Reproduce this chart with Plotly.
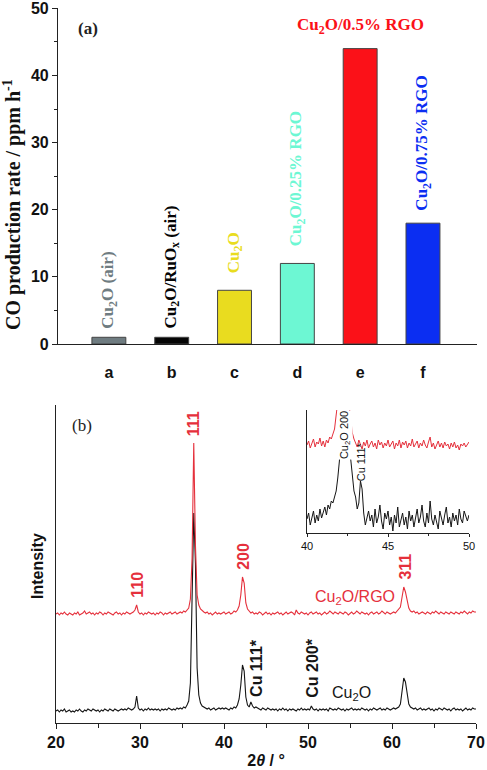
import numpy as np
import plotly.graph_objects as go

# ---------------- Panel (a) data ----------------
bar_categories = ["a", "b", "c", "d", "e", "f"]
bar_values = [1, 1, 8, 12, 44, 18]
bar_colors = ["#6f7c81", "#050505", "#e9dc1f", "#6df7d3", "#fb1118", "#0b2ef2"]
bar_labels = ["Cu<sub>2</sub>O (air)", "Cu<sub>2</sub>O/RuO<sub>x</sub> (air)", "Cu<sub>2</sub>O",
              "Cu<sub>2</sub>O/0.25% RGO", "Cu<sub>2</sub>O/0.5% RGO", "Cu<sub>2</sub>O/0.75% RGO"]
y_ticks_a = [0, 10, 20, 30, 40, 50]

# ---------------- Panel (b) data (2theta 20..70, step 0.2) ----------------
two_theta = np.round(np.arange(20.0, 70.0001, 0.2), 1)
cu2o_rgo = [
    109, 110, 108, 110, 109, 111, 109, 108, 110, 109,
    108, 110, 109, 111, 108, 109, 110, 112, 109, 110,
    111, 109, 110, 108, 110, 109, 111, 110, 108, 110,
    109, 111, 110, 109, 108, 110, 111, 109, 110, 108,
    110, 109, 111, 110, 109, 110, 111, 113, 118, 111,
    109, 110, 108, 110, 109, 111, 110, 109, 110, 108,
    110, 109, 111, 110, 108, 110, 109, 110, 111, 109,
    110, 111, 109, 110, 111, 110, 112, 111, 113, 115,
    124, 165, 280, 178, 128, 118, 114, 112, 111, 110,
    111, 109, 110, 108, 110, 111, 109, 110, 109, 110,
    111, 109, 110, 111, 109, 110, 112, 111, 113, 117,
    128, 146, 140, 120, 114, 112, 110, 111, 109, 110,
    109, 111, 110, 108, 110, 111, 109, 110, 108, 110,
    109, 110, 111, 109, 110, 108, 110, 111, 109, 110,
    111, 110, 108, 113, 110, 109, 111, 110, 109, 110,
    108, 110, 111, 109, 110, 111, 109, 110, 108, 110,
    111, 109, 110, 112, 110, 109, 111, 110, 109, 111,
    110, 109, 111, 110, 108, 110, 111, 109, 110, 112,
    110, 109, 111, 110, 109, 110, 108, 110, 111, 109,
    110, 111, 109, 110, 112, 110, 109, 111, 110, 109,
    110, 111, 110, 112, 113, 116, 126, 136, 131, 121,
    115, 112, 111, 112, 110, 111, 109, 110, 111, 110,
    109, 111, 110, 109, 111, 110, 112, 110, 109, 111,
    110, 109, 111, 110, 109, 111, 110, 109, 111, 110,
    109, 111, 110, 112, 110, 109, 111, 110, 112, 111,
    111,
]
cu2o = [
    12, 13, 11, 13, 12, 14, 11, 12, 13, 11,
    12, 11, 13, 12, 14, 12, 11, 13, 12, 14,
    13, 12, 14, 13, 12, 13, 11, 13, 12, 14,
    13, 12, 14, 13, 12, 14, 13, 12, 13, 14,
    13, 14, 13, 15, 14, 13, 14, 16, 27, 15,
    13, 14, 12, 14, 13, 15, 13, 14, 13, 14,
    13, 14, 12, 14, 13, 14, 13, 15, 14, 13,
    14, 13, 15, 14, 15, 14, 16, 15, 18, 22,
    40, 130, 210, 160, 55, 28, 20, 17, 16, 15,
    14, 15, 13, 14, 15, 13, 14, 15, 14, 15,
    14, 15, 14, 13, 15, 14, 16, 15, 18, 24,
    38, 58, 52, 26, 18, 16, 21, 17, 15, 16,
    15, 14, 13, 15, 14, 13, 15, 14, 13, 14,
    13, 14, 12, 14, 13, 15, 13, 14, 12, 14,
    13, 14, 13, 12, 14, 13, 15, 13, 14, 13,
    14, 13, 17, 14, 13, 14, 12, 14, 13, 14,
    13, 14, 12, 15, 14, 13, 14, 13, 15, 14,
    13, 14, 12, 14, 13, 14, 15, 13, 14, 13,
    14, 13, 15, 14, 13, 14, 12, 14, 13, 15,
    14, 13, 14, 15, 13, 14, 13, 15, 14, 13,
    14, 15, 14, 15, 16, 19, 32, 45, 41, 28,
    19, 16, 15, 14, 15, 13, 14, 15, 13, 14,
    13, 14, 15, 13, 14, 12, 14, 13, 15, 14,
    13, 15, 14, 13, 14, 12, 14, 15, 13, 14,
    13, 14, 12, 14, 15, 13, 14, 13, 15, 14,
    14,
]

# ---------------- Inset data (2theta 40..50, step 0.1) ----------------
inset_theta = np.round(np.arange(40.0, 50.0001, 0.1), 1)
inset_rgo = [
    88, 92, 85, 90, 94, 86, 91, 89, 95, 87,
    92, 86, 93, 90, 96, 94, 99, 104, 118, 135,
    150, 165, 170, 168, 155, 140, 128, 112, 100, 94,
    90, 86, 93, 88, 84, 91, 87, 93, 85, 89,
    92, 86, 90, 84, 93, 88, 91, 85, 90, 87,
    93, 86, 89, 92, 84, 90, 87, 93, 85, 91,
    88, 92, 85, 90, 87, 94, 86, 89, 92, 85,
    90, 87, 93, 88, 85, 91, 96, 86, 90, 84,
    89, 92, 86, 90, 85, 91, 87, 89, 84, 90,
    86, 91, 85, 88, 83, 89, 87, 90, 86, 89,
    91,
]
inset_cu2o = [
    14, 20, 8, 16, 22, 10, 18, 12, 24, 15,
    20, 26, 18, 28, 24, 32, 30, 36, 42, 55,
    72, 100, 115, 118, 115, 105, 88, 70, 52, 42,
    36, 24, 30, 52, 44, 20, 8, 14, 22, 12,
    18, 6, 24, 10, 16, 28, 12, 4, 20, 14,
    22, 8, 16, 2, 18, 10, 26, 6, 14, 20,
    8, 16, 4, 22, 12, 18, 6, 14, 24, 10,
    16, 28, 12, 6, 20, 10, 32, 14, 8, 18,
    12, 4, 22, 14, 8, 18, 26, 10, 16, 6,
    20, 12, 18, 8, 24, 14, 10, 22, 16, 12,
    18,
]

# ---------------- style ----------------
W, H = 487, 770
MT = 8  # top margin (px)
HA = H - MT
SANS = "Liberation Sans, Arial, sans-serif"
SERIF = "Liberation Serif, Times New Roman, serif"
RED = "#e5303c"
BLACK = "#151515"


def xdom(p0, p1):
    return [p0 / W, p1 / W]


def ydom(top, bottom):
    return [(H - bottom) / HA, (H - top) / HA]


def px_x(p):
    return p / W


def px_y(p):
    return (H - p) / HA


fig = go.Figure()

fig.add_trace(go.Bar(
    x=list(range(len(bar_categories))), y=bar_values, width=0.54,
    marker=dict(color=bar_colors, line=dict(color="#444444", width=1)),
    xaxis="x", yaxis="y", showlegend=False,
))

fig.add_trace(go.Scatter(x=two_theta, y=cu2o, mode="lines",
                         line=dict(color=BLACK, width=1.1), xaxis="x2", yaxis="y2"))
fig.add_trace(go.Scatter(x=two_theta, y=cu2o_rgo, mode="lines",
                         line=dict(color=RED, width=1.1), xaxis="x2", yaxis="y2"))

fig.add_trace(go.Scatter(x=inset_theta, y=inset_cu2o, mode="lines",
                         line=dict(color=BLACK, width=1), xaxis="x3", yaxis="y3"))
fig.add_trace(go.Scatter(x=inset_theta, y=inset_rgo, mode="lines",
                         line=dict(color=RED, width=1), xaxis="x3", yaxis="y3"))

ann = []
# panel (a) labels
label_shift = [7, 7, 15, 15, 11, 11]
for i, (lab, v, c) in enumerate(zip(bar_labels, bar_values, bar_colors)):
    if i == 4:
        ann.append(dict(x=i, y=v, xref="x", yref="y", text="<b>%s</b>" % lab, showarrow=False,
                        xanchor="center", yanchor="bottom", yshift=10,
                        font=dict(family=SERIF, size=17, color=c)))
    else:
        ann.append(dict(x=i, y=v, xref="x", yref="y", text="<b>%s</b>" % lab, showarrow=False,
                        textangle=-90, xanchor="center", yanchor="bottom", yshift=label_shift[i],
                        font=dict(family=SERIF, size=17, color=c)))
ann.append(dict(x=px_x(88), y=px_y(28), xref="paper", yref="paper", text="<b>(a)</b>",
                xanchor="center", yanchor="middle",
                showarrow=False, font=dict(family=SERIF, size=17, color="#222222")))
# axis titles as annotations
ann.append(dict(x=px_x(13), y=px_y(205), xref="paper", yref="paper",
                text="<b>CO production rate / ppm h<sup>-1</sup></b>", textangle=-90,
                xanchor="center", yanchor="middle",
                showarrow=False, font=dict(family=SERIF, size=20, color="#111111")))
ann.append(dict(x=px_x(37), y=px_y(566), xref="paper", yref="paper",
                text="<b>Intensity</b>", textangle=-90, xanchor="center", yanchor="middle",
                showarrow=False, font=dict(family=SANS, size=16, color="#111111")))

# panel (b) labels
peak_labels = [("110", 29.6, 118), ("111", 36.4, 280), ("200", 42.3, 146), ("311", 61.5, 136)]
for t, px, py in peak_labels:
    ann.append(dict(x=px, y=py, xref="x2", yref="y2", text="<b>%s</b>" % t, showarrow=False,
                    textangle=-90, xanchor="center", yanchor="bottom", yshift=5,
                    font=dict(family=SANS, size=16, color=RED)))
ann.append(dict(x=55.6, y=126, xref="x2", yref="y2", text="Cu<sub>2</sub>O/RGO", showarrow=False,
                xanchor="center", yanchor="middle",
                font=dict(family=SANS, size=16, color=RED)))
ann.append(dict(x=55.2, y=30, xref="x2", yref="y2", text="Cu<sub>2</sub>O", showarrow=False,
                xanchor="center", yanchor="middle",
                font=dict(family=SANS, size=16, color=BLACK)))
ann.append(dict(x=43.8, y=24, xref="x2", yref="y2", text="<b>Cu 111*</b>", showarrow=False,
                textangle=-90, xanchor="center", yanchor="bottom",
                font=dict(family=SANS, size=16, color=BLACK)))
ann.append(dict(x=50.5, y=23, xref="x2", yref="y2", text="<b>Cu 200*</b>", showarrow=False,
                textangle=-90, xanchor="center", yanchor="bottom",
                font=dict(family=SANS, size=16, color=BLACK)))
ann.append(dict(x=23.1, y=298, xref="x2", yref="y2", text="(b)", showarrow=False,
                xanchor="center", yanchor="middle",
                font=dict(family=SERIF, size=17, color="#222222")))
# inset labels
ann.append(dict(x=42.35, y=98, xref="x3", yref="y3", text="Cu<sub>2</sub>O 200", showarrow=False,
                textangle=-90, bgcolor="white", borderpad=0, xanchor="center", yanchor="middle",
                font=dict(family=SANS, size=11, color=BLACK)))
ann.append(dict(x=43.35, y=71, xref="x3", yref="y3", text="Cu 111*", showarrow=False,
                textangle=-90, xanchor="center", yanchor="middle",
                font=dict(family=SANS, size=11, color=BLACK)))

axis_common = dict(showgrid=False, zeroline=False, linecolor="#222222", linewidth=1.2,
                   tickcolor="#222222", automargin=False, ticklabeloverflow="allow")

fig.update_layout(
    width=W, height=H, margin=dict(l=0, r=0, t=MT, b=0, pad=0, autoexpand=False),
    paper_bgcolor="white", plot_bgcolor="white", showlegend=False,
    annotations=ann,
    xaxis=dict(domain=xdom(58, 477), anchor="y", range=[-0.81, 5.86],
               tickvals=list(range(len(bar_categories))), ticktext=bar_categories,
               ticks="", showline=True, ticklabelstandoff=14,
               tickfont=dict(family=SANS, size=16, color="#111111", weight="bold"), **axis_common),
    yaxis=dict(domain=ydom(8, 344), anchor="x", range=[0, 50.05], tickvals=y_ticks_a,
               ticks="outside", ticklen=5, showline=True,
               minor=dict(tickvals=[5, 15, 25, 35, 45], ticks="outside", ticklen=3, tickcolor="#222222"),
               tickfont=dict(family=SANS, size=16, color="#111111", weight="bold"),
               **axis_common),
    xaxis2=dict(domain=xdom(56, 476), anchor="y2", range=[20, 70], dtick=10,
                ticks="outside", ticklen=5, showline=True,
                minor=dict(dtick=5, ticks="outside", ticklen=4, tickcolor="#222222"),
                tickfont=dict(family=SANS, size=16, color="#111111", weight="bold"),
                title=dict(text="<b>2<i>θ</i> / °</b>", standoff=4,
                           font=dict(family=SANS, size=16, color="#111111")),
                **axis_common),
    yaxis2=dict(domain=ydom(405, 723), anchor="x2", range=[0, 318],
                showticklabels=False, ticks="", showline=True, **axis_common),
    xaxis3=dict(domain=xdom(307, 469), anchor="y3", range=[40, 50], dtick=5,
                ticks="outside", ticklen=3, showline=True,
                minor=dict(dtick=2.5, ticks="outside", ticklen=2, tickcolor="#222222"),
                tickfont=dict(family=SANS, size=11, color="#111111"),
                **axis_common),
    yaxis3=dict(domain=ydom(410, 533), anchor="x3", range=[0, 123],
                showticklabels=False, ticks="", showline=True, **axis_common),
)

fig.write_html("out.html", config={"displayModeBar": False},
               post_script="document.body.style.margin='0px';document.body.style.overflow='hidden';")
